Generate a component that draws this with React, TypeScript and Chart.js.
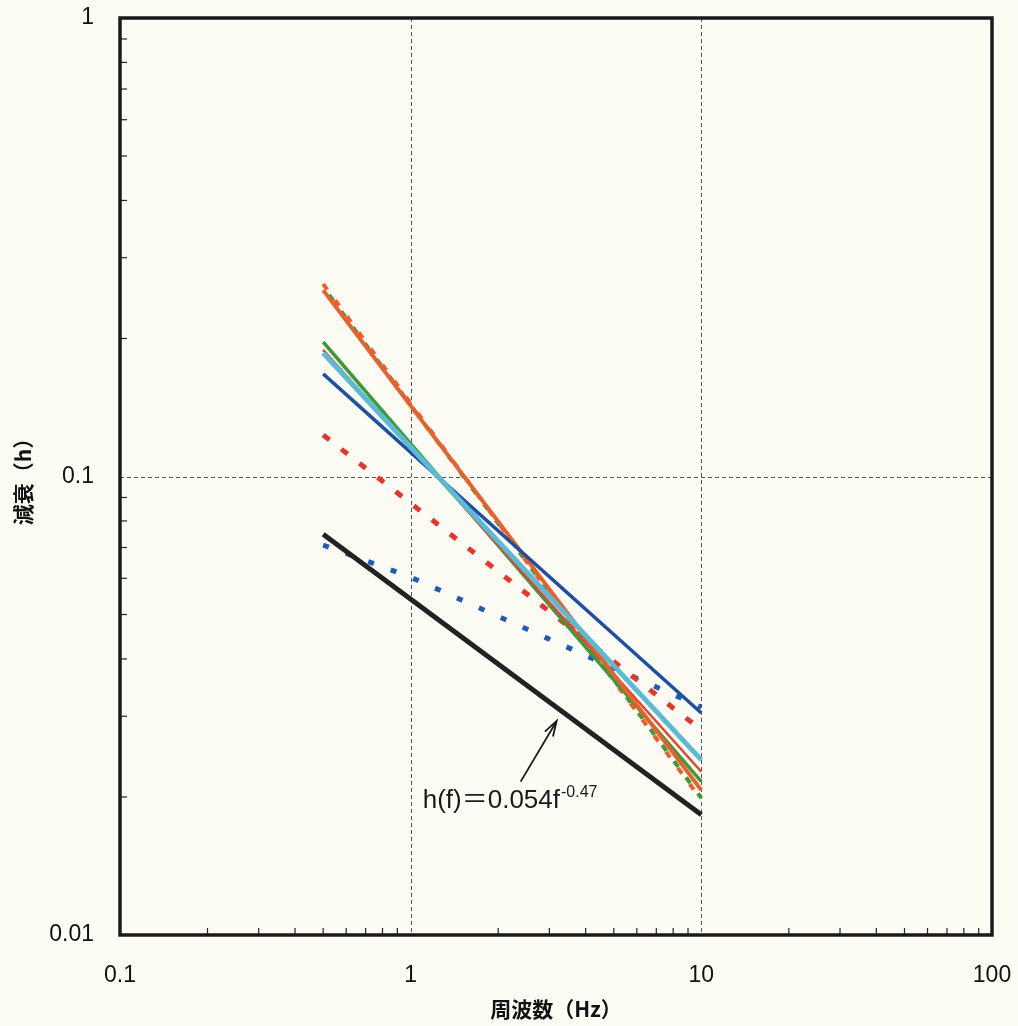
import React, { useEffect, useRef } from "react";
import { Chart, registerables } from "chart.js";

Chart.register(...registerables);

// Frequency samples (Hz)
const freq = [0.5, 10];
const freqDotted = [0.5, 1, 10];

// Damping values per series
const orangeSolid = [0.255, 0.0207];
const orangeDashed = [0.263, 0.0197];
const greenDashed = [0.259, 0.0199];
const greenSolid = [0.1965, 0.0216];
const redSolid = [0.1888, 0.0227];
const cyanSolid = [0.186, 0.0241];
const blueSolid = [0.1674, 0.0305];
const redDashed = [0.1232, 0.028];
const blueDotted = [0.0709, 0.0603, 0.0314];
// h(f) = 0.054 f^-0.47
const fitLine = [0.0748, 0.0183];

// Axis ticks
const xTicks = [0.1, 1, 10, 100];
const xTickLabels = ["0.1", "1", "10", "100"];
const yTicks = [0.01, 0.1, 1];
const yTickLabels = ["0.01", "0.1", "1"];
const xMinor = [0.2, 0.3, 0.4, 0.5, 0.6, 0.7, 0.8, 0.9, 2, 3, 4, 5, 6, 7, 8, 9, 20, 30, 40, 50, 60, 70, 80, 90];
const yMinor = [0.02, 0.03, 0.04, 0.05, 0.06, 0.07, 0.08, 0.09, 0.2, 0.3, 0.4, 0.5, 0.6, 0.7, 0.8, 0.9];

// Annotation: label and arrow in data coordinates
const fitLabel = "h(f)\uFF1D0.054f";
const fitLabelExp = "-0.47";
const fitLabelAt = { f: 1.1, h: 0.0189 };
const arrowFrom = { f: 2.39, h: 0.0216 };
const arrowTo = { f: 3.18, h: 0.0293 };

const pts = (xs: number[], ys: number[]) => xs.map((x, i) => ({ x, y: ys[i] }));

const framePlugin = {
  id: "frame",
  beforeDatasetsDraw(chart: any) {
    const { ctx, chartArea: a, scales } = chart;
    const xs = scales.x;
    const ys = scales.y;
    ctx.save();
    // dashed decade grid
    ctx.strokeStyle = "#555";
    ctx.lineWidth = 1;
    ctx.setLineDash([4, 3]);
    [1, 10].forEach((v) => {
      const px = Math.round(xs.getPixelForValue(v)) + 0.5;
      ctx.beginPath();
      ctx.moveTo(px, a.top);
      ctx.lineTo(px, a.bottom);
      ctx.stroke();
    });
    [0.1].forEach((v) => {
      const py = Math.round(ys.getPixelForValue(v)) + 0.5;
      ctx.beginPath();
      ctx.moveTo(a.left, py);
      ctx.lineTo(a.right, py);
      ctx.stroke();
    });
    ctx.setLineDash([]);
    // inward minor ticks
    ctx.strokeStyle = "#222";
    ctx.lineWidth = 1.2;
    xMinor.forEach((v) => {
      const px = xs.getPixelForValue(v);
      ctx.beginPath();
      ctx.moveTo(px, a.bottom);
      ctx.lineTo(px, a.bottom - 7);
      ctx.stroke();
    });
    yMinor.forEach((v) => {
      const py = ys.getPixelForValue(v);
      ctx.beginPath();
      ctx.moveTo(a.left, py);
      ctx.lineTo(a.left + 7, py);
      ctx.stroke();
    });
    ctx.restore();
  },
  afterDatasetsDraw(chart: any) {
    const { ctx, chartArea: a, scales } = chart;
    const xs = scales.x;
    const ys = scales.y;
    ctx.save();
    // plot frame
    ctx.strokeStyle = "#1a1a1a";
    ctx.lineWidth = 3.5;
    ctx.strokeRect(a.left, a.top, a.right - a.left, a.bottom - a.top);

    // arrow
    const x0 = xs.getPixelForValue(arrowFrom.f);
    const y0 = ys.getPixelForValue(arrowFrom.h);
    const x1 = xs.getPixelForValue(arrowTo.f);
    const y1 = ys.getPixelForValue(arrowTo.h);
    ctx.strokeStyle = "#1a1a1a";
    ctx.lineWidth = 1.8;
    ctx.beginPath();
    ctx.moveTo(x0, y0);
    ctx.lineTo(x1, y1);
    const ang = Math.atan2(y1 - y0, x1 - x0);
    const hl = 16;
    ctx.moveTo(x1 - hl * Math.cos(ang - 0.3), y1 - hl * Math.sin(ang - 0.3));
    ctx.lineTo(x1, y1);
    ctx.lineTo(x1 - hl * Math.cos(ang + 0.3), y1 - hl * Math.sin(ang + 0.3));
    ctx.stroke();

    // formula label
    const tx = xs.getPixelForValue(fitLabelAt.f);
    const ty = ys.getPixelForValue(fitLabelAt.h);
    ctx.fillStyle = "#1a1a1a";
    ctx.textBaseline = "alphabetic";
    ctx.textAlign = "left";
    ctx.font = '26px "Liberation Sans", "Noto Sans CJK JP", sans-serif';
    ctx.fillText(fitLabel, tx, ty);
    const w = ctx.measureText(fitLabel).width;
    ctx.font = '16px "Liberation Sans", sans-serif';
    ctx.fillText(fitLabelExp, tx + w + 1, ty - 11);
    ctx.restore();
  },
};

export default function App() {
  const ref = useRef<HTMLCanvasElement | null>(null);

  useEffect(() => {
    document.body.style.margin = "0";
    const canvas = ref.current;
    if (!canvas) return;

    const line = (
      label: string,
      xs: number[],
      ys: number[],
      color: string,
      width: number,
      order: number,
      dash: number[] = [],
      dashOffset = 0
    ) => ({
      label,
      data: pts(xs, ys),
      borderColor: color,
      backgroundColor: color,
      borderWidth: width,
      borderDash: dash,
      borderDashOffset: dashOffset,
      borderCapStyle: "butt",
      pointRadius: 0,
      tension: 0,
      fill: false,
      order,
    });

    const tickFont = { family: '"Liberation Sans", Arial, sans-serif', size: 23 };
    const titleFont = { family: '"Noto Sans CJK JP", sans-serif', size: 21, weight: "bold" };

    const chart = new Chart(canvas, {
      type: "line",
      data: {
        datasets: [
          line("fit", freq, fitLine, "#222222", 5, 0),
          line("cyan", freq, cyanSolid, "#5bbad6", 5, 1),
          line("blue", freq, blueSolid, "#1f4f9f", 3.5, 2),
          line("orange", freq, orangeSolid, "#e8602b", 4, 3),
          line("red", freq, redSolid, "#e4452f", 2.5, 4),
          line("green", freq, greenSolid, "#3d9a3b", 3.5, 5),
          line("orangeDashed", freq, orangeDashed, "#e8602b", 4, 6, [7, 13]),
          line("greenDashed", freq, greenDashed, "#3d9a3b", 4, 7, [7, 13], 10),
          line("redDashed", freq, redDashed, "#e8352b", 5, 8, [8, 15]),
          line("blueDotted", freqDotted, blueDotted, "#1f5bb5", 5, 9, [6, 18]),
        ] as any,
      },
      options: {
        animation: false,
        responsive: true,
        maintainAspectRatio: false,
        layout: { padding: { top: 18, right: 26, left: 0, bottom: 0 } },
        plugins: { legend: { display: false }, tooltip: { enabled: false } },
        scales: {
          x: {
            type: "logarithmic",
            min: 0.1,
            max: 100,
            afterFit: (s: any) => {
              s.height = 91;
              s.paddingLeft = 0;
              s.paddingRight = 0;
            },
            afterBuildTicks: (s: any) => {
              s.ticks = xTicks.map((v) => ({ value: v }));
            },
            grid: { display: false },
            border: { display: false },
            ticks: {
              autoSkip: false,
              maxRotation: 0,
              padding: 19,
              color: "#111",
              font: tickFont,
              callback: (v: any) => xTickLabels[xTicks.indexOf(Number(v))] ?? "",
            },
            title: {
              display: true,
              text: "周波数（Hz）",
              color: "#111",
              padding: { top: 0, bottom: 4 },
              font: titleFont,
            },
          },
          y: {
            type: "logarithmic",
            min: 0.01,
            max: 1,
            afterFit: (s: any) => {
              s.width = 120;
              s.paddingTop = 0;
              s.paddingBottom = 0;
            },
            afterBuildTicks: (s: any) => {
              s.ticks = yTicks.map((v) => ({ value: v }));
            },
            grid: { display: false },
            border: { display: false },
            ticks: {
              autoSkip: false,
              padding: 18,
              color: "#111",
              font: tickFont,
              callback: (v: any) => yTickLabels[yTicks.indexOf(Number(v))] ?? "",
            },
            title: {
              display: true,
              text: "減衰（h）",
              color: "#111",
              padding: { top: 10, bottom: 0 },
              font: titleFont,
            },
          },
        },
      } as any,
      plugins: [framePlugin],
    });

    return () => chart.destroy();
  }, []);

  return (
    <div
      style={{
        position: "absolute",
        left: 0,
        top: 0,
        width: 1018,
        height: 1026,
        background: "#fcfbf4",
      }}
    >
      <canvas ref={ref} />
    </div>
  );
}
